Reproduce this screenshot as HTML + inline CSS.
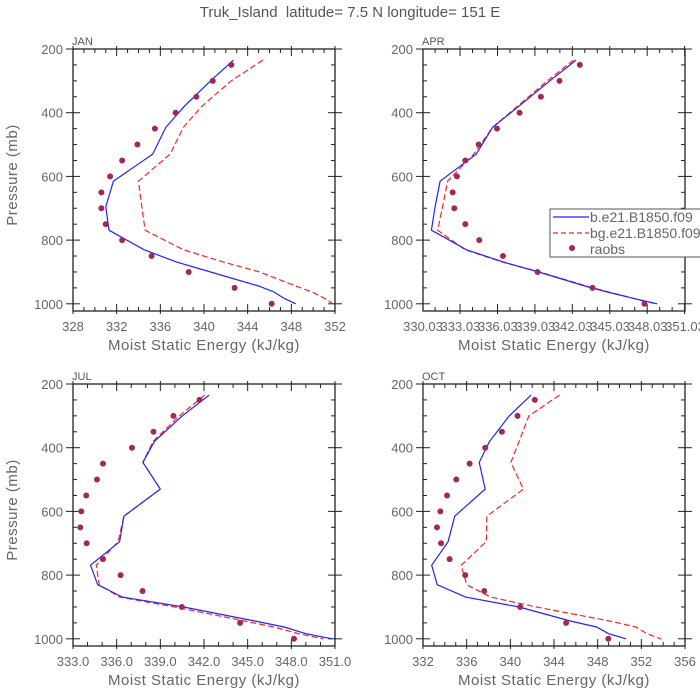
<!DOCTYPE html>
<html><head><meta charset="utf-8"><style>
html,body{margin:0;padding:0;background:#fff;}
svg{display:block;font-family:"Liberation Sans",sans-serif;}
</style></head><body>
<svg id="chart" width="700" height="700" viewBox="0 0 700 700">
<text x="350" y="17" text-anchor="middle" font-size="15" fill="#555" style="white-space:pre">Truk_Island &#160;latitude= 7.5 N longitude= 151 E</text>
</svg>
<script>
const levels=[235,300,380,446,530,615,695,769,830,869,900,944,963,984,1000];
const obsLevels=[250,300,350,400,450,500,550,600,650,700,750,800,850,900,950,1000];
const janBlue=[342.7,340.6,338.2,336.5,335.3,331.7,331.0,331.3,334.5,337.5,340.6,345.0,346.4,347.4,348.4];
const janRed=[345.4,342.5,339.8,338.1,336.9,334.0,334.3,334.6,338.1,341.8,345.1,348.4,349.9,351.1,351.8];
const janObs=[342.5,340.8,339.3,337.4,335.5,333.9,332.5,331.4,330.6,330.6,331.0,332.5,335.2,338.6,342.8,346.2];
const aprBlue=[342.3,340.2,337.7,335.6,334.3,331.4,331.0,330.7,333.5,336.5,339.3,343.0,344.8,347.0,348.8];
const aprRed=[342.1,340.0,337.6,335.6,334.1,332.0,331.6,331.2,333.4,336.4,339.4,343.1,344.9,347.0,348.7];
const aprObs=[342.6,340.97,339.48,337.77,335.96,334.49,333.42,332.75,332.41,332.54,333.42,334.54,336.44,339.21,343.62,347.78];
const julBlue=[342.35,340.5,338.6,337.8,339.0,336.5,336.2,334.2,334.7,336.4,340.6,345.5,347.5,349.0,350.8];
const julRed=[342.05,340.3,338.5,337.8,339.0,336.5,336.1,334.6,334.8,336.2,340.0,344.8,346.8,348.5,350.2];
const julObs=[341.69,339.9,338.53,337.05,335.06,334.65,333.91,333.57,333.5,333.94,335.06,336.27,337.78,340.48,344.48,348.18];
const octBlue=[341.9,339.9,338.1,337.15,337.7,334.9,334.3,332.8,333.3,335.9,340.8,345.5,347.9,349.0,350.6];
const octRed=[344.5,341.7,340.8,340.05,341.2,337.85,337.8,335.5,336.0,338.2,342.4,349.1,351.5,352.5,353.8];
const octObs=[342.24,340.66,339.23,337.7,336.27,335.05,334.2,333.59,333.28,333.65,334.44,335.87,337.61,340.9,345.11,348.98];
const janTicks=["328","332","336","340","344","348","352"];
const aprTicks=["330.03","333.03","336.03","339.03","342.03","345.03","348.03","351.03"];
const julTicks=["333.0","336.0","339.0","342.0","345.0","348.0","351.0"];
const octTicks=["332","336","340","344","348","352","356"];
const yTicks=["200","400","600","800","1000"];

const NS="http://www.w3.org/2000/svg";
const svg=document.getElementById('chart');
function mk(tag,attrs,parent){const e=document.createElementNS(NS,tag);for(const k in attrs)e.setAttribute(k,attrs[k]);(parent||svg).appendChild(e);return e;}

function panel(p){
  const g=mk('g',{});
  
  
  const L=p.left,R=p.left+262,T=p.top,B=p.top+262;
  const xmin=parseFloat(p.ticks[0]),xmax=parseFloat(p.ticks[p.ticks.length-1]);
  const xs=v=>L+(v-xmin)/(xmax-xmin)*(R-L);
  const ys=v=>T+(v-200)*0.3185;
  const tg=mk('g',{stroke:'#222','stroke-width':1},g);
  
  
  for(let v=Math.ceil(xmin);v<=xmax+1e-6;v+=1){
    const x=xs(v);
    const major=p.ticks.some(t=>Math.abs(parseFloat(t)-v)<0.05);
    const len=major?7:4;
    mk('line',{x1:x,x2:x,y1:B,y2:B-len},tg);mk('line',{x1:x,x2:x,y1:T,y2:T+len},tg);
    if(major){mk('line',{x1:x,x2:x,y1:B,y2:B+3},tg);mk('line',{x1:x,x2:x,y1:T,y2:T-3},tg);}
  }
  for(let v=200;v<=1000;v+=50){
    const y=ys(v);const major=v%200===0;const len=major?7:4;
    mk('line',{x1:L,x2:L+len,y1:y,y2:y},tg);mk('line',{x1:R,x2:R-len,y1:y,y2:y},tg);
    if(major){mk('line',{x1:L,x2:L-7,y1:y,y2:y},tg);mk('line',{x1:R,x2:R+7,y1:y,y2:y},tg);}
  }
  const fr=mk('rect',{x:L,y:T,width:R-L,height:B-T,fill:'none',stroke:'#222','stroke-width':1.3},g);
  
  
  p.ticks.forEach(t=>{
    const tx=mk('text',{x:xs(parseFloat(t)),y:B+20,'text-anchor':'middle','font-size':13,fill:'#666'},g);
    tx.textContent=t;
    
    
  });
  yTicks.forEach(t=>{
    const tx=mk('text',{x:L-10,y:ys(parseFloat(t))+5,'text-anchor':'end','font-size':13,fill:'#666'},g);
    tx.textContent=t;
    
    
  });
  const lab=mk('text',{x:L-1,y:T-4,'font-size':11,fill:'#555'},g);lab.textContent=p.label;
  
  
  const xt=mk('text',{x:(L+R)/2,y:B+39,'text-anchor':'middle','font-size':15,fill:'#666','letter-spacing':'0.5'},g);
  xt.textContent='Moist Static Energy (kJ/kg)';
  
  
  if(p.ytitle){
    const yt=mk('text',{x:0,y:0,'text-anchor':'middle','font-size':15,fill:'#666','letter-spacing':'0.5',transform:`translate(17,${(T+B)/2-5}) rotate(-90)`},g);
    yt.textContent='Pressure (mb)';
    
    
  }
  const pts=a=>a.map((v,i)=>xs(v).toFixed(1)+','+ys(levels[i]).toFixed(1)).join(' ');
  const rl=mk('polyline',{points:pts(p.red),fill:'none',stroke:'#f22','stroke-width':1.2,'stroke-dasharray':'6,3'},g);
  
  
  const bl=mk('polyline',{points:pts(p.blue),fill:'none',stroke:'#22f','stroke-width':1.2},g);
  
  
  p.obs.forEach((v,i)=>{
    const c=mk('circle',{cx:xs(v),cy:ys(obsLevels[i]),r:3,fill:'#a3285a'},g);
    
    
  });
}
panel({name:'jan',label:'JAN',left:73,top:49,ticks:janTicks,blue:janBlue,red:janRed,obs:janObs,ytitle:true});
panel({name:'apr',label:'APR',left:423,top:49,ticks:aprTicks,blue:aprBlue,red:aprRed,obs:aprObs,ytitle:false});
panel({name:'jul',label:'JUL',left:73,top:384,ticks:julTicks,blue:julBlue,red:julRed,obs:julObs,ytitle:true});
panel({name:'oct',label:'OCT',left:423,top:384,ticks:octTicks,blue:octBlue,red:octRed,obs:octObs,ytitle:false});

const lg=mk('g',{});


mk('rect',{x:550,y:209,width:160,height:48,fill:'#fff',stroke:'#555','stroke-width':1},lg);
mk('line',{x1:553,x2:589,y1:217,y2:217,stroke:'#22f','stroke-width':1.2},lg);
mk('line',{x1:553,x2:589,y1:233,y2:233,stroke:'#f22','stroke-width':1.2,'stroke-dasharray':'5,3'},lg);
mk('circle',{cx:572,cy:248,r:3,fill:'#a3285a'},lg);
[['b.e21.B1850.f09',222],['bg.e21.B1850.f09',238],['raobs',254]].forEach(([t,y])=>{
  const tx=mk('text',{x:590,y:y,'font-size':14,fill:'#666'},lg);tx.textContent=t;
  
  
});
</script>
</body></html>
